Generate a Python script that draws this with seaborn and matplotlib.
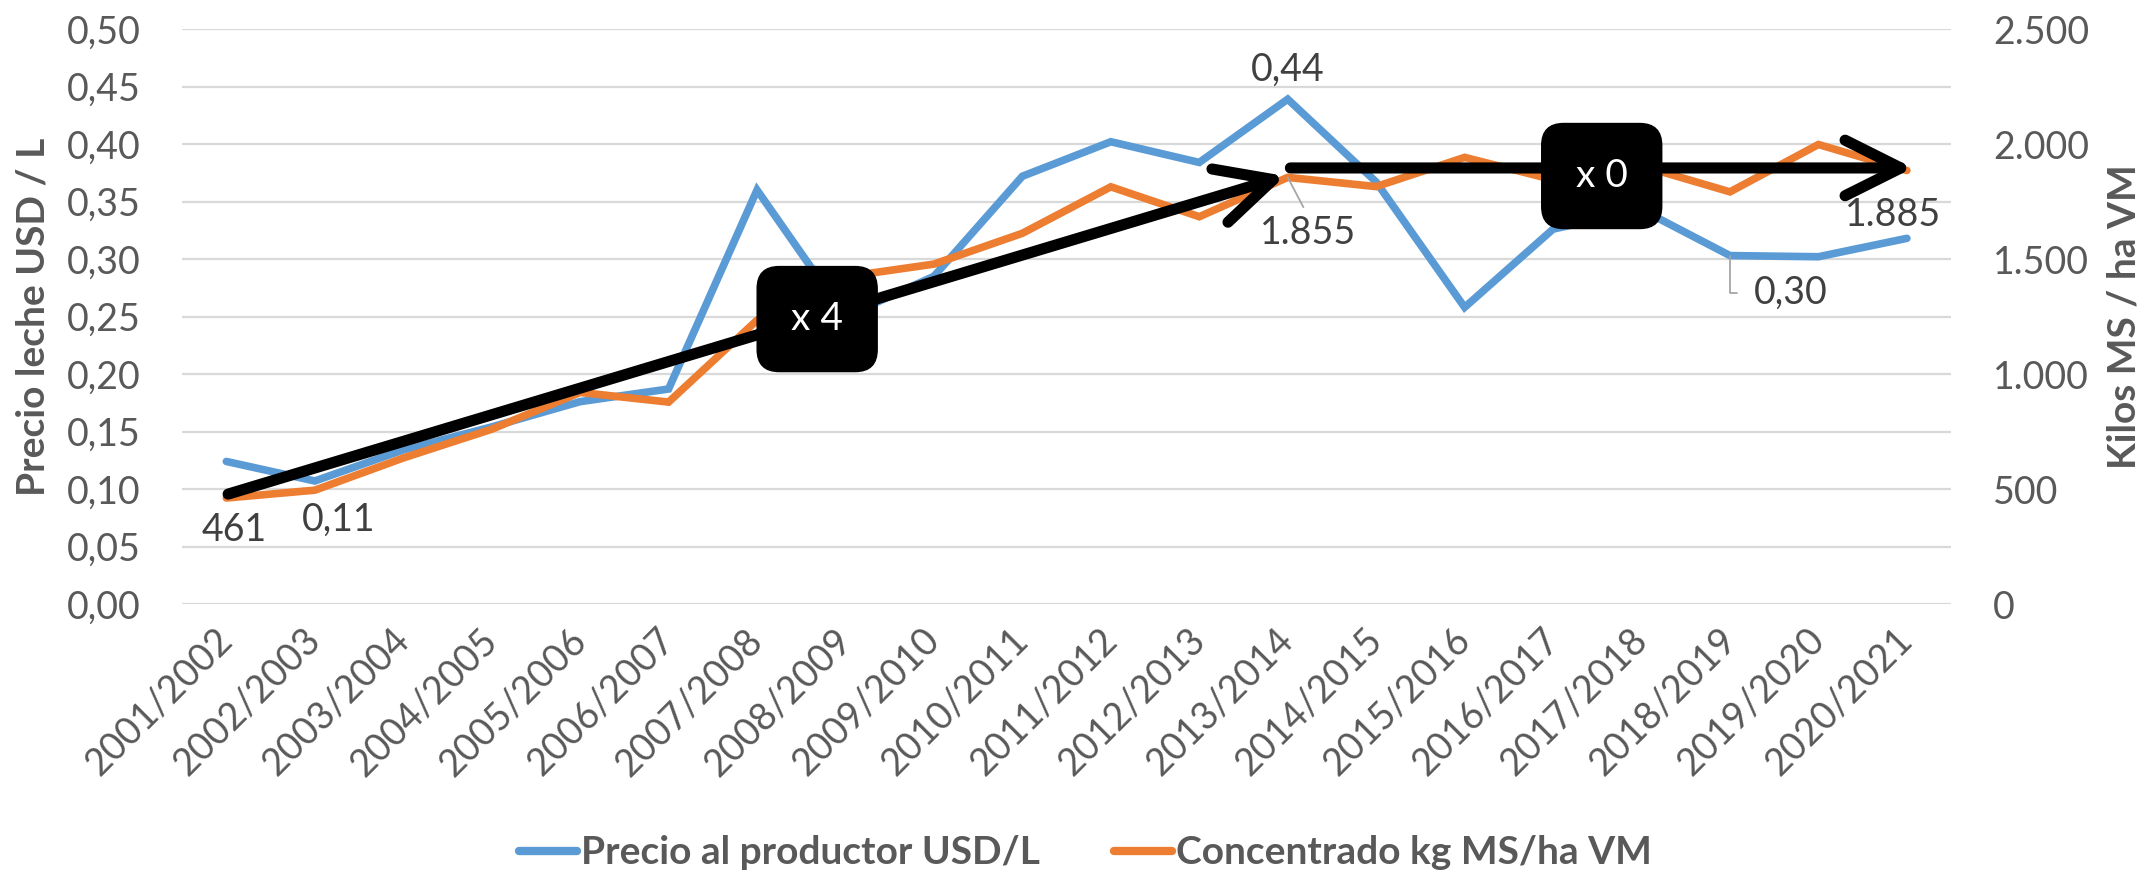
import numpy as np
import pandas as pd
import matplotlib.pyplot as plt
import seaborn as sns
from matplotlib.lines import Line2D
from matplotlib.patches import FancyBboxPatch
from matplotlib.transforms import IdentityTransform
from matplotlib.ticker import FuncFormatter, MultipleLocator

# --- data ---
seasons = ["2001/2002", "2002/2003", "2003/2004", "2004/2005", "2005/2006",
           "2006/2007", "2007/2008", "2008/2009", "2009/2010", "2010/2011",
           "2011/2012", "2012/2013", "2013/2014", "2014/2015", "2015/2016",
           "2016/2017", "2017/2018", "2018/2019", "2019/2020", "2020/2021"]
price_usd_l = [0.124, 0.107, 0.134, 0.154, 0.176, 0.187, 0.360, 0.250, 0.285, 0.372,
               0.402, 0.384, 0.439, 0.367, 0.258, 0.326, 0.343, 0.303, 0.302, 0.318]
concentrate_kg = [461, 495, 635, 760, 920, 878, 1234, 1423, 1478, 1612,
                  1814, 1684, 1855, 1815, 1942, 1845, 1905, 1792, 1998, 1885]

price_name = "Precio al productor USD/L"
conc_name = "Concentrado kg MS/ha VM"

# price labels shown (index, text) and concentrate labels shown
price_labels = [(1, "0,11"), (12, "0,44"), (17, "0,30")]
conc_labels = [(0, "461"), (12, "1.855"), (19, "1.885")]

BLUE = "#5B9BD5"
ORANGE = "#ED7D31"
GREY = "#595959"
DARK = "#404040"

sns.set_theme(style="white")
plt.rcParams["font.family"] = ["Lato", "DejaVu Sans"]

fig, ax = plt.subplots(figsize=(21.45, 8.72), dpi=100)
fig.subplots_adjust(left=0.0849, right=0.9096, bottom=0.3073, top=0.9667)
ax2 = ax.twinx()

sns.lineplot(x=seasons, y=price_usd_l, ax=ax, color=BLUE, lw=5.5, sort=False,
             legend=False, solid_capstyle="round", solid_joinstyle="miter")
sns.lineplot(x=seasons, y=concentrate_kg, ax=ax2, color=ORANGE, lw=5.5, sort=False,
             legend=False, solid_capstyle="round", solid_joinstyle="miter")

ax.set_xlim(-0.5, len(seasons) - 0.5)
ax.set_ylim(0, 0.5)
ax2.set_ylim(0, 2500)
ax.yaxis.set_major_locator(MultipleLocator(0.05))
ax2.yaxis.set_major_locator(MultipleLocator(500))
ax.yaxis.set_major_formatter(FuncFormatter(lambda v, p: f"{v:.2f}".replace(".", ",")))
ax2.yaxis.set_major_formatter(FuncFormatter(lambda v, p: f"{int(round(v)):,}".replace(",", ".")))

ax.grid(axis="y", color="#D9D9D9", lw=1.6)
ax.grid(axis="x", visible=False)
ax2.grid(False)
for a in (ax, ax2):
    for s in a.spines.values():
        s.set_visible(False)
    a.set_xlabel("")
    a.set_ylabel("")

ax.tick_params(axis="y", length=0, labelsize=27, labelcolor=GREY, pad=30)
ax2.tick_params(axis="y", length=0, labelsize=27, labelcolor=GREY, pad=30)
ax.tick_params(axis="x", length=0, labelsize=27, labelcolor=GREY, pad=22)
for lab in ax.get_xticklabels():
    lab.set_rotation(45)
    lab.set_ha("right")
    lab.set_va("center")
    lab.set_rotation_mode("anchor")

fig.text(0.0154, 0.637, "Precio leche USD / L", rotation=90, ha="center", va="center",
         fontsize=28, fontweight="bold", color=GREY)
fig.text(0.990, 0.637, "Kilos MS / ha VM", rotation=90, ha="center", va="center",
         fontsize=28, fontweight="bold", color=GREY)

# trend arrows
arrow_style = "->,head_length=2.0,head_width=1.0"
arrow_kw = dict(arrowstyle=arrow_style, lw=8, color="black", shrinkA=0, shrinkB=0,
                mutation_scale=20, capstyle="round", joinstyle="round")
ax2.annotate("", xy=(11.97, concentrate_kg[12] + 6), xytext=(0.02, concentrate_kg[0] + 17),
             arrowprops=arrow_kw, zorder=5)
ax2.annotate("", xy=(19.07, 1896), xytext=(12.03, 1896), arrowprops=arrow_kw, zorder=5)

# multiplier boxes
for bx, by, txt in [(6.68, 1239, "x 4"), (15.55, 1861, "x 0")]:
    cx, cy = ax2.transData.transform((bx, by))
    w, h = 120, 105
    box = FancyBboxPatch((cx - w / 2, cy - h / 2), w, h,
                         boxstyle="round,pad=0,rounding_size=22",
                         transform=IdentityTransform(), facecolor="black",
                         edgecolor="black", zorder=6, clip_on=False)
    ax2.add_artist(box)
    ax2.text(bx, by, txt, color="white", fontsize=28, ha="center", va="center", zorder=7)

# data labels
lead = dict(arrowstyle="-", color="#A6A6A6", lw=1.3, shrinkA=4, shrinkB=0)
offsets_p = {1: (24, -39), 12: (0, 29), 17: (61, -37)}
for i, txt in price_labels:
    kw = {}
    if i == 17:
        kw["arrowprops"] = dict(lead, connectionstyle="angle,angleA=0,angleB=90,rad=0",
                                relpos=(0, 0.5), shrinkA=10)
    ax.annotate(txt, xy=(i, price_usd_l[i]), xytext=offsets_p[i], textcoords="offset pixels",
                ha="center", va="center", fontsize=27, color=DARK, zorder=8, **kw)
offsets_c = {0: (8, -32), 12: (20, -56), 19: (-14, -45)}
for i, txt in conc_labels:
    kw = {}
    if i == 12:
        kw["arrowprops"] = dict(lead, relpos=(0.5, 1.0))
    ax2.annotate(txt, xy=(i, concentrate_kg[i]), xytext=offsets_c[i], textcoords="offset pixels",
                 ha="center", va="center", fontsize=27, color=DARK, zorder=8, **kw)

handles = [Line2D([0], [0], color=BLUE, lw=6, solid_capstyle="round"),
           Line2D([0], [0], color=ORANGE, lw=6, solid_capstyle="round")]
fig.legend(handles, [price_name, conc_name], loc="center", bbox_to_anchor=(0.506, 0.022),
           ncol=2, frameon=False, handlelength=1.5, handletextpad=0.1, columnspacing=1.9,
           prop={"size": 28, "weight": "bold"}, labelcolor=GREY)

fig.savefig("out.png", dpi=100, facecolor="white")
